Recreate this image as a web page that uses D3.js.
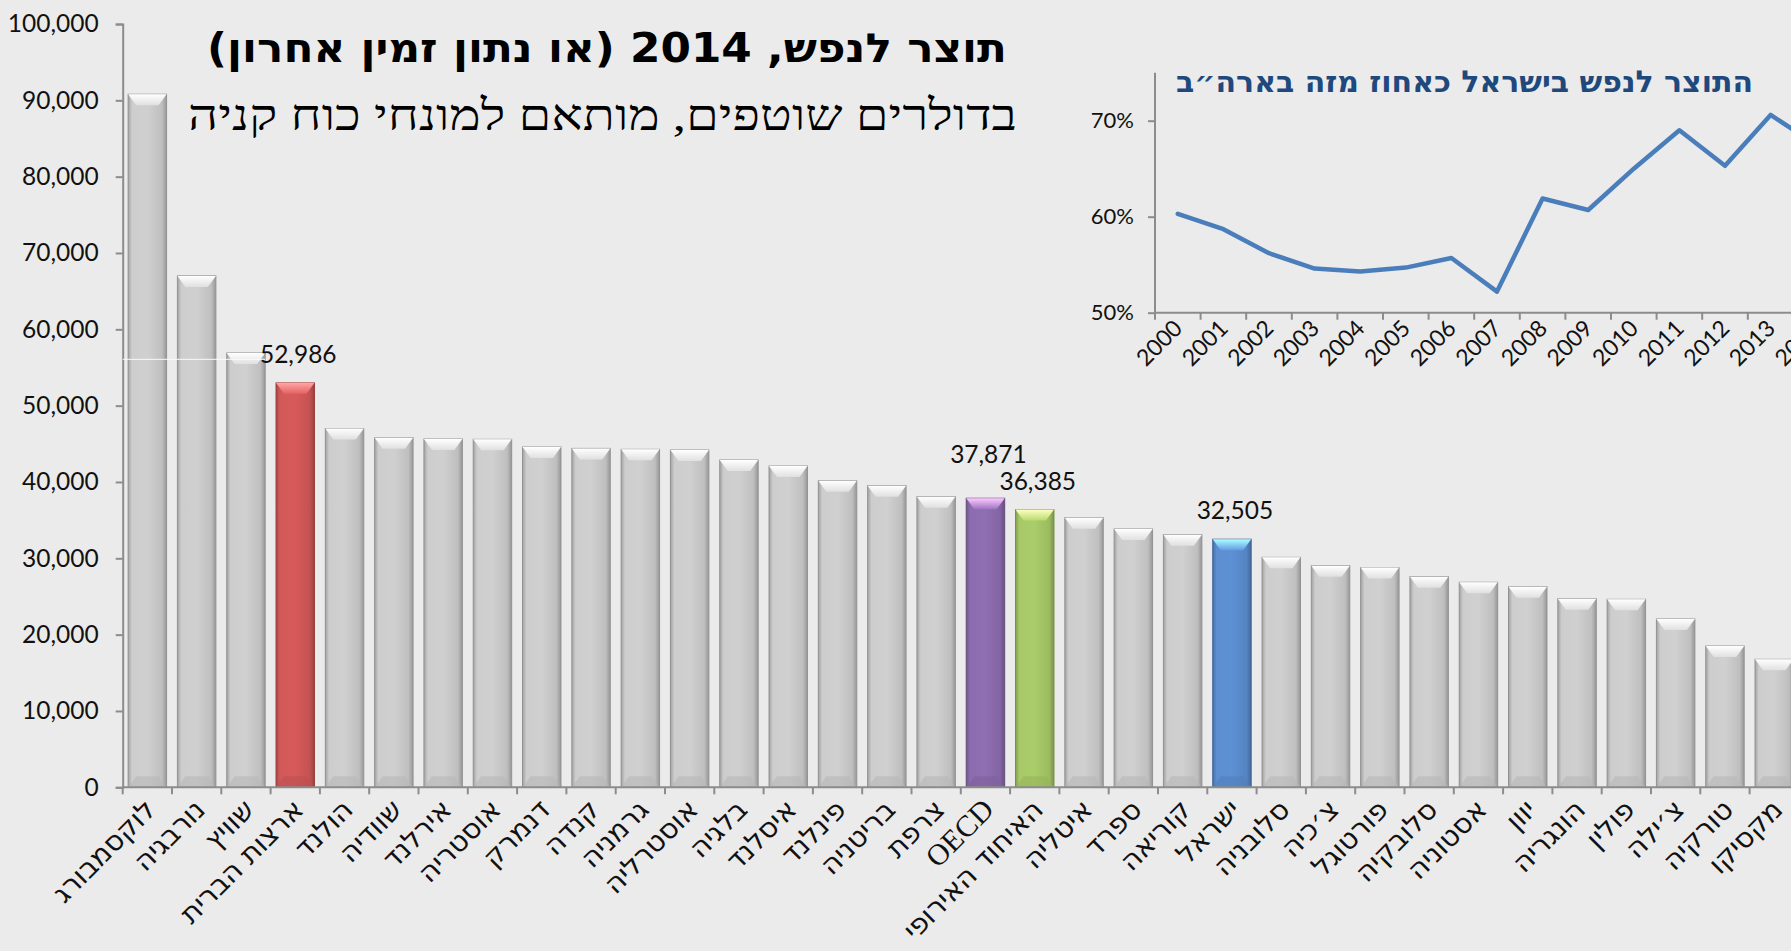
<!DOCTYPE html>
<html>
<head>
<meta charset="utf-8">
<script src="https://cdn.jsdelivr.net/npm/d3@7"></script>
<style>
  body { margin: 0; background: #ebebeb; }
  svg { display: block; }
</style>
</head>
<body>
<div id="viz"></div>
<script>
// data
let countries = ["לוקסמבורג","נורבגיה","שוויץ","ארצות הברית","הולנד","שוודיה","אירלנד","אוסטריה","דנמרק","קנדה","גרמניה","אוסטרליה","בלגיה","איסלנד","פינלנד","בריטניה","צרפת","OECD","האיחוד האירופי","איטליה","ספרד","קוריאה","ישראל","סלובניה","צ׳כיה","פורטוגל","סלובקיה","אסטוניה","יוון","הונגריה","פולין","צ׳ילה","טורקיה","מקסיקו"];
let gdp = [90800,67000,56900,52986,47000,45800,45630,45590,44580,44400,44280,44190,42880,42090,40170,39520,38080,37871,36385,35320,33840,33100,32505,30130,29040,28780,27600,26860,26280,24710,24630,22050,18510,16770];
let labelled = ["ארצות הברית","OECD","האיחוד האירופי","ישראל"];
let labelLift = [0, 15, 0, 0];
let highlight = {"ארצות הברית":"#cf5757","OECD":"#8a6aac","האיחוד האירופי":"#a4c565","ישראל":"#5a8bcd"};
let yTicks = [0,10000,20000,30000,40000,50000,60000,70000,80000,90000,100000];

let years = ["2000","2001","2002","2003","2004","2005","2006","2007","2008","2009","2010","2011","2012","2013","2014"];
let share = [0.603,0.587,0.562,0.546,0.543,0.547,0.557,0.522,0.619,0.607,0.650,0.690,0.653,0.706,0.675];
let shareTicks = [0.5,0.6,0.7];

let w = 1791;
let h = 951;

let viz = d3.select("#viz").append("svg")
  .attr("width", w)
  .attr("height", h)
  .style("background", "#ebebeb");

let defs = viz.append("defs");

// side shading for a bar colour
function barGradient(id, base){
  let c = d3.color(base);
  let g = defs.append("linearGradient").attr("id", id).attr("x1","0").attr("x2","1").attr("y1","0").attr("y2","0");
  g.append("stop").attr("offset","0").attr("stop-color", c.darker(0.6));
  g.append("stop").attr("offset","0.1").attr("stop-color", c.brighter(0.05));
  g.append("stop").attr("offset","0.5").attr("stop-color", c.brighter(0.1));
  g.append("stop").attr("offset","0.88").attr("stop-color", c.darker(0.15));
  g.append("stop").attr("offset","1").attr("stop-color", c.darker(0.8));
  let t = defs.append("linearGradient").attr("id", id+"-top").attr("x1","0").attr("x2","0").attr("y1","0").attr("y2","1");
  t.append("stop").attr("offset","0").attr("stop-color", c.brighter(1.8));
  t.append("stop").attr("offset","1").attr("stop-color", c.brighter(0.3));
}
barGradient("g-gray", "#c9c9c9");
Object.keys(highlight).forEach(function(k, i){ barGradient("g-hl"+i, highlight[k]); });

function fillId(d){
  let i = Object.keys(highlight).indexOf(d);
  return i < 0 ? "g-gray" : "g-hl"+i;
}

// SCALES
let x0 = 122.7;
let step = 49.3;
let x = d3.scaleBand().domain(countries).range([x0, x0 + step*countries.length]).paddingInner(0.22).paddingOuter(0.11);
let y = d3.scaleLinear().domain([0,100000]).range([787.3, 24]);

// y axis
let yAxis = viz.append("g")
  .attr("transform", "translate(" + x0 + ",0)")
  .call(d3.axisLeft(y).tickValues(yTicks).tickFormat(d3.format(",")).tickSize(7).tickPadding(17));
yAxis.select(".domain").attr("stroke", "#8c8c8c").attr("stroke-width", 2);
yAxis.selectAll(".tick line").attr("stroke", "#8c8c8c").attr("stroke-width", 2);
yAxis.selectAll("text").attr("font-family", "Lato, 'DejaVu Sans', sans-serif").attr("font-size", 24.5).attr("fill", "#111");

// bars
let bars = viz.selectAll(".bar").data(countries).enter().append("g").attr("class","bar");
bars.append("rect")
  .attr("x", function(d){ return x(d); })
  .attr("y", function(d,i){ return y(gdp[i]); })
  .attr("width", x.bandwidth())
  .attr("height", function(d,i){ return y(0) - y(gdp[i]); })
  .attr("fill", function(d){ return "url(#" + fillId(d) + ")"; })
  .attr("stroke", function(d){ return d3.color(highlight[d] || "#c9c9c9").darker(0.9); })
  .attr("stroke-width", 1);
// top bevel
bars.append("path")
  .attr("d", function(d,i){
    let bx = x(d), bw = x.bandwidth(), ty = y(gdp[i]);
    return "M"+bx+","+ty+" L"+(bx+bw)+","+ty+" L"+(bx+bw-8)+","+(ty+11)+" L"+(bx+8)+","+(ty+11)+"Z";
  })
  .attr("fill", function(d){ return "url(#" + fillId(d) + "-top)"; });
// bottom bevel
bars.append("path")
  .attr("d", function(d){
    let bx = x(d), bw = x.bandwidth(), by = y(0);
    return "M"+bx+","+by+" L"+(bx+bw)+","+by+" L"+(bx+bw-8)+","+(by-11)+" L"+(bx+8)+","+(by-11)+"Z";
  })
  .attr("fill", function(d){ return d3.color(highlight[d] || "#c9c9c9").darker(0.25); })
  .attr("opacity", 0.6);

// thin light line across the first bars
viz.append("line")
  .attr("x1", x0).attr("x2", x(countries[2]) + x.bandwidth())
  .attr("y1", y(56070)).attr("y2", y(56070))
  .attr("stroke", "#fafafa").attr("stroke-width", 1);

// value labels
viz.selectAll(".val").data(labelled).enter().append("text")
  .attr("x", function(d){ return x(d) + x.bandwidth()/2 + 3; })
  .attr("y", function(d,i){ return y(gdp[countries.indexOf(d)]) - 20 - labelLift[i]; })
  .attr("text-anchor", "middle")
  .attr("font-family", "Lato, 'DejaVu Sans', sans-serif")
  .attr("font-size", 24.5)
  .attr("fill", "#111")
  .text(function(d){ return d3.format(",")(gdp[countries.indexOf(d)]); });

// x axis
viz.append("line")
  .attr("x1", x0).attr("x2", w).attr("y1", y(0)).attr("y2", y(0))
  .attr("stroke", "#8c8c8c").attr("stroke-width", 2);
viz.selectAll(".xtick").data(d3.range(countries.length + 1)).enter().append("line")
  .attr("x1", function(i){ return x0 + i*x.step(); })
  .attr("x2", function(i){ return x0 + i*x.step(); })
  .attr("y1", y(0)).attr("y2", y(0) + 7)
  .attr("stroke", "#8c8c8c").attr("stroke-width", 2);

viz.selectAll(".xlab").data(countries).enter().append("text")
  .attr("transform", function(d){
    return "translate(" + (x(d) + x.bandwidth()/2 + 10) + "," + (y(0) + 24) + ") rotate(-45)";
  })
  .attr("direction", "rtl")
  .attr("text-anchor", "start")
  .attr("font-family", function(d){ return d == "OECD" ? "'Liberation Serif', serif" : "'DejaVu Sans', sans-serif"; })
  .attr("font-size", function(d){ return d == "OECD" ? 30 : 28; })
  .attr("fill", "#111")
  .text(function(d){ return d; });

// titles
viz.append("text")
  .attr("x", 1007).attr("y", 62)
  .attr("direction", "rtl").attr("text-anchor", "start")
  .attr("font-family", "'DejaVu Sans', sans-serif")
  .attr("font-weight", "bold")
  .attr("font-size", 40)
  .attr("textLength", 800).attr("lengthAdjust", "spacingAndGlyphs")
  .attr("fill", "#000")
  .text("תוצר לנפש, 2014 (או נתון זמין אחרון)");
viz.append("text")
  .attr("x", 1017).attr("y", 130)
  .attr("direction", "rtl").attr("text-anchor", "start")
  .attr("font-family", "'Liberation Serif', serif")
  .attr("font-size", 43)
  .attr("textLength", 829).attr("lengthAdjust", "spacingAndGlyphs")
  .attr("fill", "#000")
  .text("בדולרים שוטפים, מותאם למונחי כוח קניה");

// INSET: Israel as share of US
let ix0 = 1155;
let istep = 45.6;
let xi = d3.scaleBand().domain(years).range([ix0, ix0 + istep*years.length]);
let yi = d3.scaleLinear().domain([0.5, 0.75]).range([312.7, 72.7]);

let yiAxis = viz.append("g")
  .attr("transform", "translate(" + ix0 + ",0)")
  .call(d3.axisLeft(yi).tickValues(shareTicks).tickFormat(d3.format(".0%")).tickSize(7).tickPadding(14));
yiAxis.select(".domain").attr("stroke", "#8c8c8c").attr("stroke-width", 2).attr("d", "M0," + yi(0.75) + "V" + yi(0.5));
yiAxis.selectAll(".tick line").attr("stroke", "#8c8c8c").attr("stroke-width", 2);
yiAxis.selectAll("text").attr("font-family", "Lato, 'DejaVu Sans', sans-serif").attr("font-size", 22).attr("fill", "#111");

viz.append("line")
  .attr("x1", ix0).attr("x2", w).attr("y1", yi(0.5)).attr("y2", yi(0.5))
  .attr("stroke", "#8c8c8c").attr("stroke-width", 2);
viz.selectAll(".itick").data(d3.range(years.length + 1)).enter().append("line")
  .attr("x1", function(i){ return ix0 + i*xi.step(); })
  .attr("x2", function(i){ return ix0 + i*xi.step(); })
  .attr("y1", yi(0.5)).attr("y2", yi(0.5) + 7)
  .attr("stroke", "#8c8c8c").attr("stroke-width", 2);

viz.selectAll(".ilab").data(years).enter().append("text")
  .attr("transform", function(d){
    return "translate(" + (xi(d) + xi.bandwidth()/2 + 6) + "," + (yi(0.5) + 17) + ") rotate(-45)";
  })
  .attr("text-anchor", "end")
  .attr("font-family", "Lato, 'DejaVu Sans', sans-serif")
  .attr("font-size", 23)
  .attr("fill", "#111")
  .text(function(d){ return d; });

let lineMaker = d3.line()
  .x(function(d,i){ return xi(years[i]) + xi.bandwidth()/2; })
  .y(function(d){ return yi(d); });
viz.append("path")
  .datum(share)
  .attr("d", lineMaker)
  .attr("fill", "none")
  .attr("stroke", "#4a7ebb")
  .attr("stroke-width", 4.5)
  .attr("stroke-linejoin", "round")
  .attr("stroke-linecap", "round");

viz.append("text")
  .attr("x", 1753).attr("y", 92)
  .attr("direction", "rtl").attr("text-anchor", "start")
  .attr("font-family", "'DejaVu Sans', sans-serif")
  .attr("font-weight", "bold")
  .attr("font-size", 30)
  .attr("textLength", 577).attr("lengthAdjust", "spacingAndGlyphs")
  .attr("fill", "#1f497d")
  .text("התוצר לנפש בישראל כאחוז מזה בארה״ב");
</script>
</body>
</html>
